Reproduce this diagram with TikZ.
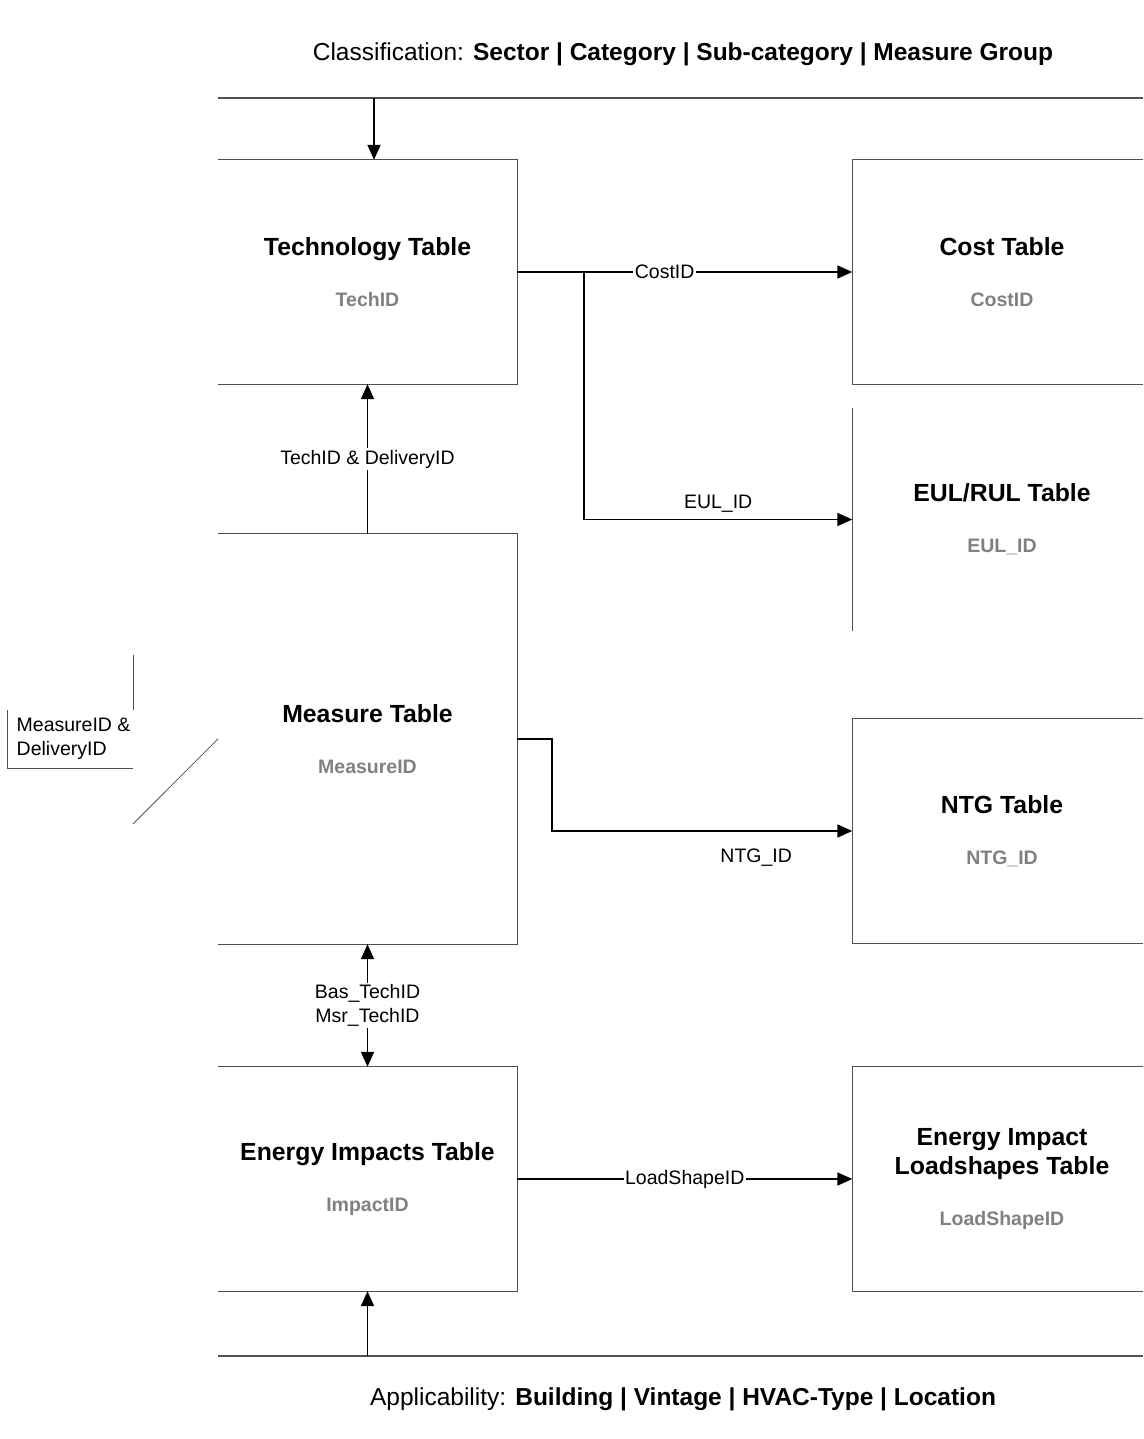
\documentclass[tikz,border=0pt]{standalone}
\usepackage{fontspec}
\setmainfont{Liberation Sans}
\usepackage{tikz}
\usetikzlibrary{arrows.meta,positioning,calc}
\definecolor{boxline}{RGB}{80,80,80}
\definecolor{idgray}{RGB}{128,128,128}
\newcommand{\tblid}[1]{{\fontsize{19.5}{23}\selectfont\color{idgray}#1}}
\tikzset{
  tbl/.style={minimum width=299pt, minimum height=224pt, inner sep=0pt, align=center,
              font=\fontsize{24.8}{29}\selectfont\bfseries},
  edge/.style={boxline, line width=1.3pt},
  link/.style={-{Triangle[length=15pt,width=13pt]}, black, line width=1.8pt},
  lbl/.style={font=\fontsize{19.5}{24}\selectfont, fill=white, inner sep=1.5pt},
  plain/.style={font=\fontsize{19.5}{24}\selectfont, inner sep=1.5pt},
  band/.style={font=\fontsize{24.5}{29}\selectfont},
}

\begin{document}
\begin{tikzpicture}[x=1pt, y=-1pt]
  \useasboundingbox (0,0) rectangle (1143,1439);
  \coordinate (rim) at (1143,0);

  % header and footer bands
  \node[band] (cls) at (683,54) {Classification: \textbf{Sector | Category | Sub-category | Measure Group}};
  \node[band] (app) at (683,1399) {Applicability: \textbf{Building | Vintage | HVAC-Type | Location}};
  \coordinate (topbar) at (218,98);
  \coordinate (botbar) at (218,1356);
  \draw[edge] (topbar) -- (topbar -| rim);
  \draw[edge] (botbar) -- (botbar -| rim);

  % tables
  \node[tbl] (tech) at (367.5,272) {Technology Table\\[22pt]\tblid{TechID}};
  \node[tbl] (cost) at (1002,272) {Cost Table\\[22pt]\tblid{CostID}};
  \node[tbl, minimum height=223pt] (eul) at (1002,519.5) {EUL/RUL Table\\[22pt]\tblid{EUL\_ID}};
  \node[tbl, minimum height=410pt] (meas) at (367.5,739) {Measure Table\\[22pt]\tblid{MeasureID}};
  \node[tbl] (ntg) at (1002,831) {NTG Table\\[22pt]\tblid{NTG\_ID}};
  \node[tbl] (ei) at (367.5,1179) {Energy Impacts Table\\[22pt]\tblid{ImpactID}};
  \node[tbl] (eil) at (1002,1179) {Energy Impact\\Loadshapes Table\\[22pt]\tblid{LoadShapeID}};

  \draw[edge] (tech.north west) -- (tech.north east) -- (tech.south east) -- (tech.south west);
  \draw[edge] (meas.north west) -- (meas.north east) -- (meas.south east) -- (meas.south west);
  \draw[edge] (ei.north west) -- (ei.north east) -- (ei.south east) -- (ei.south west);
  \draw[edge] (cost.north -| rim) -- (cost.north west) -- (cost.south west) -- (cost.south -| rim);
  \draw[edge] (eul.north west) -- (eul.south west);
  \draw[edge] (ntg.north -| rim) -- (ntg.north west) -- (ntg.south west) -- (ntg.south -| rim);
  \draw[edge] (eil.north -| rim) -- (eil.north west) -- (eil.south west) -- (eil.south -| rim);

  % keys between tables
  \coordinate (techin) at (374,98);
  \coordinate (split) at (584,271);
  \coordinate (jog) at (552,739);
  \draw[link] (techin) -- (techin |- tech.north);
  \draw[link] (meas.north) -- node[lbl] {TechID \& DeliveryID} (tech.south);
  \draw[link] (tech.east) -- node[lbl, pos=0.44] {CostID} (cost.west);
  \draw[link] (split) |- node[plain, above=5pt, pos=0.75] {EUL\_ID} (eul.west);
  \draw[link] (meas.east) -- (jog) |- node[plain, below=15pt, pos=0.84] {NTG\_ID} (ntg.west);
  \draw[link, {Triangle[length=15pt,width=13pt]}-{Triangle[length=15pt,width=13pt]}]
    (meas.south) -- node[lbl, align=center] {Bas\_TechID\\Msr\_TechID} (ei.north);
  \draw[link] (ei.east) -- node[lbl, pos=0.5] {LoadShapeID} (eil.west);
  \draw[link] (botbar -| ei.south) -- (ei.south);

  % cut-off key on the left
  \node[plain, align=left, anchor=west] (mkey) at (15,739) {MeasureID \&\\DeliveryID};
  \draw[edge, line width=1pt] (133,655) -- (133,710);
  \draw[edge, line width=1pt] (7,710) -- (7,768) -- (133,768);
  \draw[boxline, line width=0.8pt] (meas.west) -- (133,824);
\end{tikzpicture}
\end{document}
